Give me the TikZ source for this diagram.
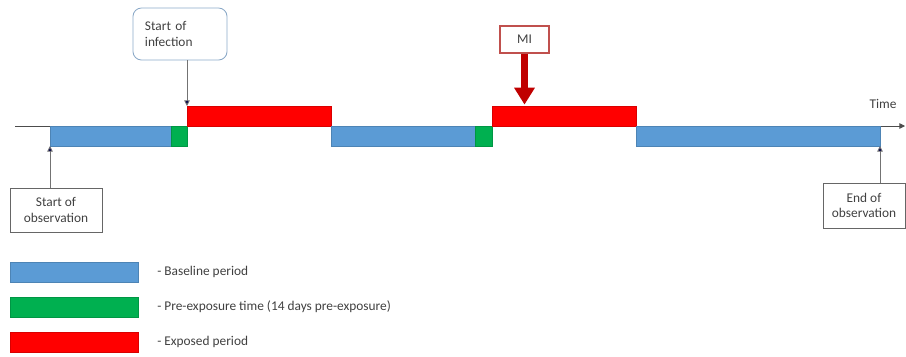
\documentclass[tikz,border=0pt]{standalone}
\usepackage{fontspec}
\setmainfont{Carlito}
\usetikzlibrary{arrows.meta}
\definecolor{basecol}{RGB}{91,155,213}
\definecolor{precol}{RGB}{0,176,80}
\definecolor{expcol}{RGB}{255,0,0}
\definecolor{micol}{RGB}{192,0,0}
\definecolor{miedge}{RGB}{192,80,77}
\definecolor{infedge}{RGB}{140,170,200}
\tikzset{
	bar/.style={inner sep=0, outer sep=0, anchor=north west, minimum height=0.5cm},
	basebar/.style={bar, fill=basecol, draw=basecol!85!black, line width=0.3pt},
	prebar/.style={bar, fill=precol, draw=precol!85!black, line width=0.3pt},
	expbar/.style={bar, fill=expcol, draw=expcol!85!black, line width=0.3pt},
	labelbox/.style={draw=gray!80!black, line width=0.5pt, align=center, inner sep=0},
	pointer/.style={draw=gray!90!black, line width=0.6pt, -{Triangle[length=4pt, width=4pt, fill=black!70!blue]}},
	legtext/.style={anchor=west, inner sep=0}
}
\begin{document}
\begin{tikzpicture}[x=0.025cm, y=-0.025cm, font=\fontsize{9.5}{11}\selectfont, text=black!75]
	\useasboundingbox (0,0) rectangle (906,356);
	% time axis
	\coordinate (axstart) at (15,126);
	\coordinate (axend) at (905,126);
	\draw[black!70, line width=0.6pt, -{Triangle[length=4pt, width=4pt]}] (axstart) -- (axend);
	\node[anchor=south, inner sep=0] (time) at (883,109) {Time};

	% periods
	\node[basebar, minimum width=121*0.025cm] (b1) at (50,126) {};
	\node[prebar, minimum width=16*0.025cm] (g1) at (171,126) {};
	\node[expbar, minimum width=144*0.025cm] (e1) at (187,106) {};
	\node[basebar, minimum width=144*0.025cm] (b2) at (331,126) {};
	\node[prebar, minimum width=17*0.025cm] (g2) at (475,126) {};
	\node[expbar, minimum width=144*0.025cm] (e2) at (492,106) {};
	\node[basebar, minimum width=244*0.025cm] (b3) at (636,126) {};

	% events
	\node[draw=infedge, line width=0.6pt, rounded corners=6pt, align=left, text width=1.75cm, inner xsep=0.3cm, minimum height=1.3cm] (infect) at (180,34) {Start of\\infection};
	\node[draw=miedge, line width=0.8pt, minimum width=1.225cm, minimum height=0.675cm, inner sep=0] (mi) at (524.5,39.5) {MI};
	\node[labelbox, minimum width=2.3cm, minimum height=1.1cm] (obs) at (56,210) {Start of\\observation};
	\node[labelbox, minimum width=2.05cm, minimum height=1.125cm] (endobs) at (864,205.5) {End of\\observation};

	\draw[pointer] (e1.north west |- infect.south) -- (e1.north west);
	\draw[pointer] (b1.south west |- obs.north) -- (b1.south west);
	\draw[pointer] (b3.south east |- endobs.north) -- (b3.south east);
	\draw[micol, line width=4.5pt, -{Triangle[length=12pt, width=14pt]}] (mi.south) -- ([yshift=1pt]mi.south |- e2.north);

	% legend
	\node[basebar, minimum width=128*0.025cm] (legb) at (10,262) {};
	\node[prebar, minimum width=128*0.025cm] (legg) at (10,297) {};
	\node[expbar, minimum width=128*0.025cm] (lege) at (10,332) {};
	\node[legtext] (legbtext) at (157,272) {- Baseline period};
	\node[legtext] (leggtext) at (157,307) {- Pre-exposure time (14 days pre-exposure)};
	\node[legtext] (legetext) at (157,342) {- Exposed period};
\end{tikzpicture}
\end{document}
